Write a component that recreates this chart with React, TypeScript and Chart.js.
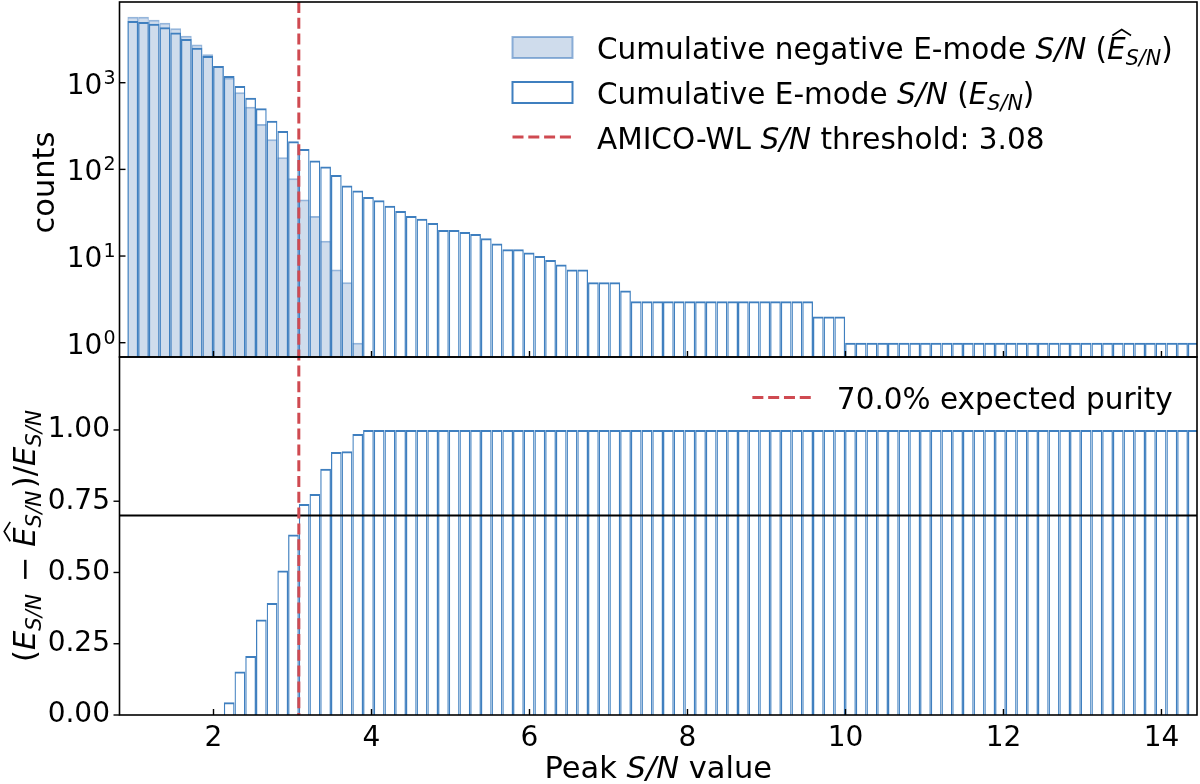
import { useEffect, useRef } from "react";
import { Chart, registerables } from "chart.js";

Chart.register(...registerables);

// histogram binning (100 equal bins) and reference lines
const BIN_START = 0.9104;
const BIN_WIDTH = 0.1356;
const THRESHOLD = 3.08;
const PURITY_LEVEL = 0.7;

// cumulative negative E-mode S/N counts (null = empty bin)
const negCounts: (number | null)[] = [
  5770, 5770, 5330, 4920, 4250, 3480, 2770, 2130, 1560, 1142,
  774, 528, 334, 222, 138, 79, 45, 29, 15, 7,
  5, 1, null, null, null, null, null, null, null, null,
  null, null, null, null, null, null, null, null, null, null,
  null, null, null, null, null, null, null, null, null, null,
  null, null, null, null, null, null, null, null, null, null,
  null, null, null, null, null, null, null, null, null, null,
  null, null, null, null, null, null, null, null, null, null,
  null, null, null, null, null, null, null, null, null, null,
  null, null, null, null, null, null, null, null, null, null,
];

// cumulative E-mode S/N counts
const eCounts = [
  5150, 5010, 4800, 4360, 3810, 3190, 2535, 2030, 1560, 1195,
  916, 671, 507, 364, 277, 211, 172, 127, 108, 86,
  65, 57, 48, 44, 38, 33, 29, 27, 24, 20,
  20, 19, 18, 16, 14, 12, 12, 11, 10, 9,
  8, 7, 7, 5, 5, 5, 4, 3, 3, 3,
  3, 3, 3, 3, 3, 3, 3, 3, 3, 3,
  3, 3, 3, 3, 2, 2, 2, 1, 1, 1,
  1, 1, 1, 1, 1, 1, 1, 1, 1, 1,
  1, 1, 1, 1, 1, 1, 1, 1, 1, 1,
  1, 1, 1, 1, 1, 1, 1, 1, 1, 1,
];

// purity (E - Ehat) / E per bin
const purity = [
  0, 0, 0, 0, 0, 0, 0, 0, 0, 0.045,
  0.153, 0.207, 0.335, 0.393, 0.507, 0.633, 0.74, 0.775, 0.864, 0.923,
  0.925, 0.986, 1, 1, 1, 1, 1, 1, 1, 1,
  1, 1, 1, 1, 1, 1, 1, 1, 1, 1,
  1, 1, 1, 1, 1, 1, 1, 1, 1, 1,
  1, 1, 1, 1, 1, 1, 1, 1, 1, 1,
  1, 1, 1, 1, 1, 1, 1, 1, 1, 1,
  1, 1, 1, 1, 1, 1, 1, 1, 1, 1,
  1, 1, 1, 1, 1, 1, 1, 1, 1, 1,
  1, 1, 1, 1, 1, 1, 1, 1, 1, 1,
];

const xTicks = [2, 4, 6, 8, 10, 12, 14];
const countTicks = [1, 10, 100, 1000];
const purityTicks = [0, 0.25, 0.5, 0.75, 1.0];

const binCenters = eCounts.map((_, i) => BIN_START + BIN_WIDTH * (i + 0.5));

const FAMILY = '"DejaVu Sans", sans-serif';
const BLUE = "#3f7fbf";
const RED = "#cf4a51";
const NEG_FILL = "rgba(160,185,218,0.5)";
const NEG_EDGE = "rgba(60,120,190,0.55)";

type Seg = { t: string; it?: boolean; sub?: boolean; hat?: boolean; gap?: number };

const fontOf = (size: number, it?: boolean) => `${it ? "italic " : ""}${size}px ${FAMILY}`;

function richWidth(ctx: CanvasRenderingContext2D, segs: Seg[], size: number) {
  let w = 0;
  for (const s of segs) {
    ctx.font = fontOf(s.sub ? size * 0.7 : size, s.it);
    w += ctx.measureText(s.t).width + (s.gap || 0) * size;
  }
  return w;
}

function drawRich(ctx: CanvasRenderingContext2D, segs: Seg[], x: number, y: number, size: number) {
  let cx = x;
  ctx.textAlign = "left";
  ctx.textBaseline = "alphabetic";
  for (const s of segs) {
    const fs = s.sub ? size * 0.7 : size;
    ctx.font = fontOf(fs, s.it);
    const dy = s.sub ? size * 0.22 : 0;
    ctx.fillText(s.t, cx, y + dy);
    const w = ctx.measureText(s.t).width;
    if (s.hat) {
      const cap = size * 0.73;
      const slant = cap * 0.2;
      ctx.beginPath();
      ctx.moveTo(cx + 1 + slant, y - cap - 2);
      ctx.lineTo(cx + w / 2 + slant + 1, y - cap - 8);
      ctx.lineTo(cx + w + slant + 1, y - cap - 2);
      ctx.lineWidth = size * 0.055;
      ctx.stroke();
    }
    cx += w + (s.gap || 0) * size;
  }
}

const legendTop: Seg[][] = [
  [{ t: "Cumulative negative E-mode " }, { t: "S/N", it: true }, { t: " (" }, { t: "E", it: true, hat: true }, { t: "S/N", it: true, sub: true }, { t: ")" }],
  [{ t: "Cumulative E-mode " }, { t: "S/N", it: true }, { t: " (" }, { t: "E", it: true }, { t: "S/N", it: true, sub: true }, { t: ")" }],
  [{ t: "AMICO-WL " }, { t: "S/N", it: true }, { t: " threshold: 3.08" }],
];
const legendBottom: Seg[] = [{ t: "70.0% expected purity" }];
const xTitle: Seg[] = [{ t: "Peak " }, { t: "S/N", it: true }, { t: " value" }];
const yTopTitle: Seg[] = [{ t: "counts" }];
const yBotTitle: Seg[] = [
  { t: "(" }, { t: "E", it: true }, { t: "S/N", it: true, sub: true, gap: 0.08 },
  { t: " \u2212 " }, { t: "E", it: true, hat: true }, { t: "S/N", it: true, sub: true, gap: 0.08 },
  { t: ")/" }, { t: "E", it: true }, { t: "S/N", it: true, sub: true },
];

function line(ctx: CanvasRenderingContext2D, x1: number, y1: number, x2: number, y2: number) {
  ctx.beginPath();
  ctx.moveTo(x1, y1);
  ctx.lineTo(x2, y2);
  ctx.stroke();
}

const decor = {
  id: "decor",
  afterDraw(chart: Chart) {
    const { ctx, chartArea: ca, scales } = chart;
    const x = scales.x, yT = scales.yTop, yB = scales.yBot;
    ctx.save();

    // 70% purity line
    ctx.strokeStyle = "#000";
    ctx.lineWidth = 2;
    const py = yB.getPixelForValue(PURITY_LEVEL);
    line(ctx, ca.left, py, ca.right, py);

    // S/N threshold
    ctx.strokeStyle = RED;
    ctx.lineWidth = 3;
    ctx.setLineDash([11, 4.8]);
    const tx = x.getPixelForValue(THRESHOLD);
    line(ctx, tx, ca.top, tx, ca.bottom);
    ctx.setLineDash([]);

    // frames and ticks
    ctx.strokeStyle = "#000";
    ctx.lineWidth = 1.6;
    ctx.strokeRect(ca.left, yT.top, ca.right - ca.left, yT.bottom - yT.top);
    ctx.strokeRect(ca.left, yB.top, ca.right - ca.left, yB.bottom - yB.top);
    ctx.lineWidth = 1.4;
    for (const v of xTicks) {
      const px = x.getPixelForValue(v);
      line(ctx, px, yT.bottom, px, yT.bottom - 6);
      line(ctx, px, yB.bottom, px, yB.bottom - 6);
    }
    for (const v of countTicks) {
      const p = yT.getPixelForValue(v);
      line(ctx, ca.left, p, ca.left + 6, p);
    }
    for (const v of purityTicks) {
      const p = yB.getPixelForValue(v);
      line(ctx, ca.left - 6, p, ca.left, p);
    }

    // log tick labels 10^n
    ctx.fillStyle = "#000";
    countTicks.forEach((v) => {
      const p = yT.getPixelForValue(v);
      const exp = String(Math.round(Math.log10(v)));
      ctx.font = fontOf(28);
      const wb = ctx.measureText("10").width;
      ctx.font = fontOf(19);
      const we = ctx.measureText(exp).width;
      const x0 = ca.left - 4 - we - wb - 1;
      ctx.textAlign = "left";
      ctx.textBaseline = "alphabetic";
      ctx.font = fontOf(28);
      ctx.fillText("10", x0, p + 11);
      ctx.font = fontOf(19);
      ctx.fillText(exp, x0 + wb + 1, p + 1);
    });

    // legends
    const LS = 29.5;
    const topW = Math.max(...legendTop.map((s) => richWidth(ctx, s, LS)));
    const textX = 597;
    const rightEdge = textX + topW;
    const base = [yT.top + 57, yT.top + 102, yT.top + 146.5];
    const hx = textX - 24.5 - 60;
    // patch: negative filled
    ctx.fillStyle = NEG_FILL;
    ctx.fillRect(hx, base[0] - 22, 60, 21);
    ctx.strokeStyle = NEG_EDGE;
    ctx.lineWidth = 2;
    ctx.strokeRect(hx, base[0] - 22, 60, 21);
    // patch: E-mode outline
    ctx.strokeStyle = BLUE;
    ctx.strokeRect(hx, base[1] - 22, 60, 21);
    // threshold line
    ctx.strokeStyle = RED;
    ctx.lineWidth = 3;
    ctx.setLineDash([11, 4.8]);
    line(ctx, hx, base[2] - 11.5, hx + 60, base[2] - 11.5);
    ctx.setLineDash([]);
    ctx.fillStyle = "#000";
    ctx.strokeStyle = "#000";
    legendTop.forEach((s, i) => drawRich(ctx, s, textX, base[i], LS));

    const bw = richWidth(ctx, legendBottom, LS);
    const bx = rightEdge - bw;
    const bb = yB.top + 52;
    ctx.strokeStyle = RED;
    ctx.lineWidth = 3;
    ctx.setLineDash([11, 4.8]);
    line(ctx, bx - 24.5 - 60, bb - 11.5, bx - 24.5, bb - 11.5);
    ctx.setLineDash([]);
    ctx.fillStyle = "#000";
    ctx.strokeStyle = "#000";
    drawRich(ctx, legendBottom, bx, bb, LS);

    // axis titles
    const TS = 30.5;
    const xw = richWidth(ctx, xTitle, TS);
    drawRich(ctx, xTitle, (ca.left + ca.right) / 2 - xw / 2, 778, TS);

    ctx.save();
    ctx.translate(53.5, (yT.top + yT.bottom) / 2 + 3);
    ctx.rotate(-Math.PI / 2);
    drawRich(ctx, yTopTitle, -richWidth(ctx, yTopTitle, TS) / 2, 0, TS);
    ctx.restore();

    ctx.save();
    ctx.translate(34.5, (yB.top + yB.bottom) / 2);
    ctx.rotate(-Math.PI / 2);
    drawRich(ctx, yBotTitle, -richWidth(ctx, yBotTitle, TS) / 2, 0, TS);
    ctx.restore();

    ctx.restore();
  },
};

const barStyle = {
  grouped: false,
  barPercentage: 1,
  categoryPercentage: 1,
  borderWidth: { top: 2, left: 1.25, right: 1.25, bottom: 0 },
  borderSkipped: "start",
  inflateAmount: 0,
};

const fixedWidth = (w: number) => (s: any) => {
  s.width = w;
  s.paddingTop = 0;
  s.paddingBottom = 0;
};

export default function App() {
  const ref = useRef<HTMLCanvasElement | null>(null);

  useEffect(() => {
    document.body.style.margin = "0";
    if (!ref.current) return;
    const ctx = ref.current.getContext("2d");
    if (!ctx) return;

    const chart = new Chart(ctx, {
      type: "bar",
      data: {
        datasets: [
          {
            label: "Cumulative negative E-mode S/N",
            data: binCenters.map((x, i) => ({ x, y: negCounts[i] })),
            yAxisID: "yTop",
            backgroundColor: NEG_FILL,
            borderColor: NEG_EDGE,
            order: 2,
            ...barStyle,
          },
          {
            label: "Cumulative E-mode S/N",
            data: binCenters.map((x, i) => ({ x, y: eCounts[i] })),
            yAxisID: "yTop",
            backgroundColor: "rgba(0,0,0,0)",
            borderColor: BLUE,
            order: 1,
            ...barStyle,
          },
          {
            label: "purity",
            data: binCenters.map((x, i) => ({ x, y: purity[i] })),
            yAxisID: "yBot",
            backgroundColor: "rgba(0,0,0,0)",
            borderColor: BLUE,
            order: 1,
            ...barStyle,
          },
        ],
      } as any,
      options: {
        animation: false,
        responsive: true,
        maintainAspectRatio: false,
        layout: { padding: { left: 0, right: 3, top: 2, bottom: 0 } },
        plugins: { legend: { display: false }, tooltip: { enabled: false } },
        scales: {
          x: {
            type: "linear",
            min: 0.81,
            max: 14.45,
            offset: false,
            position: "bottom",
            grid: { display: false, drawTicks: false, offset: false },
            border: { display: false },
            ticks: { font: { family: FAMILY, size: 28 }, color: "#000", padding: 7, autoSkip: false, maxRotation: 0 },
            afterBuildTicks: (s: any) => {
              s.ticks = xTicks.map((v) => ({ value: v }));
            },
            afterFit: (s: any) => {
              s.height = 69;
              s.paddingLeft = 0;
              s.paddingRight = 0;
            },
          },
          yBot: {
            type: "linear",
            min: 0,
            max: 1.256,
            position: "left",
            stack: "panels",
            stackWeight: 358,
            weight: 1,
            grid: { display: false, drawTicks: false },
            border: { display: false },
            ticks: {
              font: { family: FAMILY, size: 28 },
              color: "#000",
              padding: 9.5,
              callback: (v: any) => Number(v).toFixed(2),
            },
            afterBuildTicks: (s: any) => {
              s.ticks = purityTicks.map((v) => ({ value: v }));
            },
            afterFit: fixedWidth(119.5),
          },
          yTop: {
            type: "logarithmic",
            min: 0.684,
            max: 8540,
            position: "left",
            stack: "panels",
            stackWeight: 355,
            weight: 2,
            grid: { display: false, drawTicks: false },
            border: { display: false },
            ticks: { display: false },
            afterBuildTicks: (s: any) => {
              s.ticks = countTicks.map((v) => ({ value: v }));
            },
            afterFit: fixedWidth(119.5),
          },
        },
      } as any,
      plugins: [decor],
    });

    return () => {
      chart.destroy();
    };
  }, []);

  return (
    <div style={{ position: "relative", width: 1200, height: 784, background: "#fff" }}>
      <canvas ref={ref} />
    </div>
  );
}
